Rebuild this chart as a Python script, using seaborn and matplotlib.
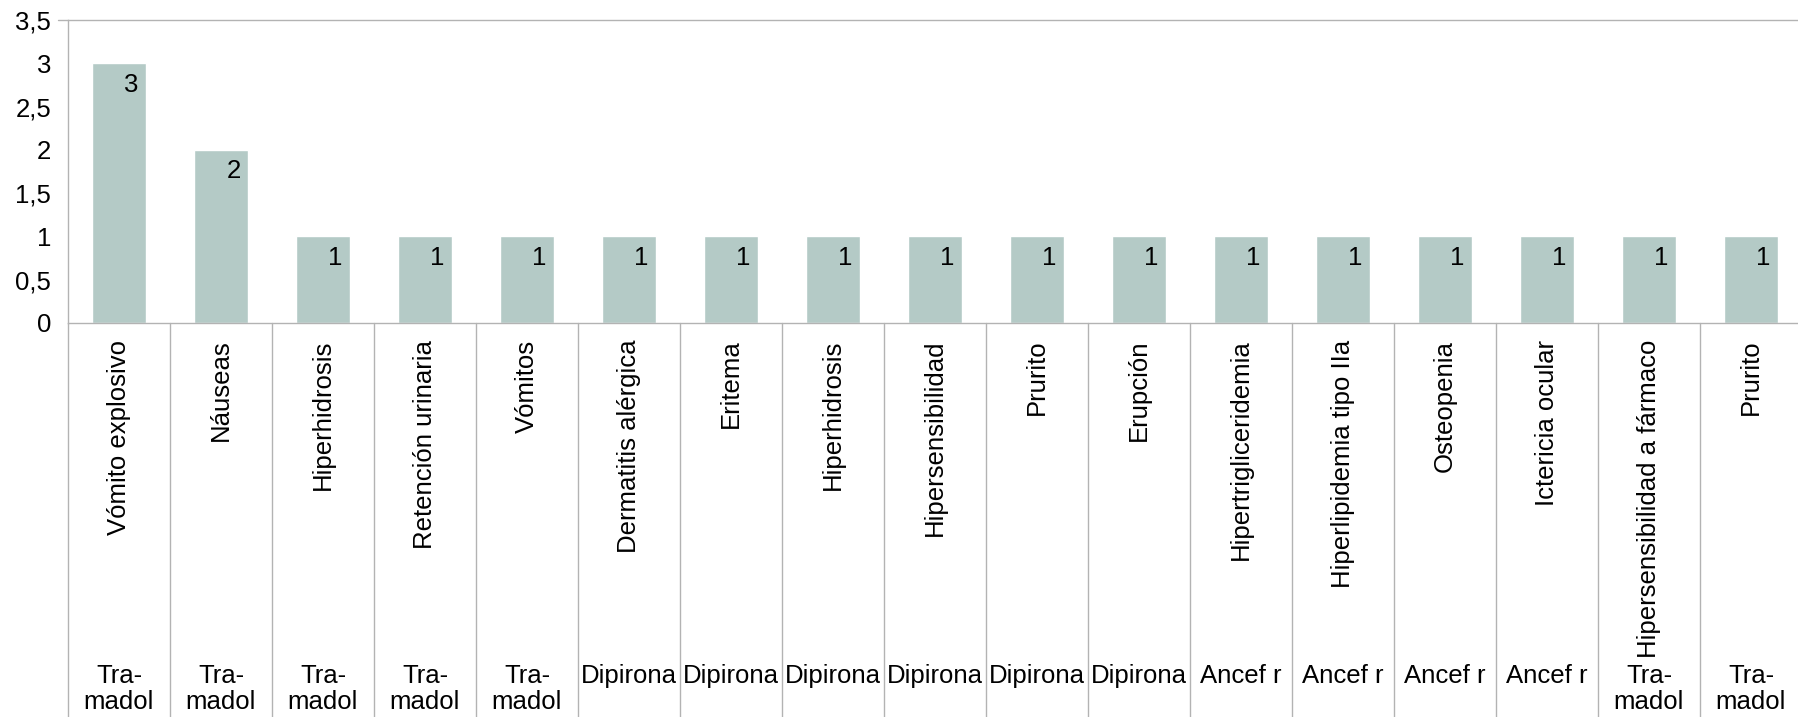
import matplotlib
matplotlib.use("Agg")
import matplotlib.pyplot as plt
import matplotlib.transforms as mtransforms
import pandas as pd
import seaborn as sns

# Data
efectos = ["Vómito explosivo", "Náuseas", "Hiperhidrosis", "Retención urinaria",
           "Vómitos", "Dermatitis alérgica", "Eritema", "Hiperhidrosis",
           "Hipersensibilidad", "Prurito", "Erupción", "Hipertrigliceridemia",
           "Hiperlipidemia tipo IIa", "Osteopenia", "Ictericia ocular",
           "Hipersensibilidad a fármaco", "Prurito"]
farmacos = ["Tra-\nmadol", "Tra-\nmadol", "Tra-\nmadol", "Tra-\nmadol", "Tra-\nmadol",
            "Dipirona", "Dipirona", "Dipirona", "Dipirona", "Dipirona", "Dipirona",
            "Ancef r", "Ancef r", "Ancef r", "Ancef r", "Tra-\nmadol", "Tra-\nmadol"]
casos = [3, 2, 1, 1, 1, 1, 1, 1, 1, 1, 1, 1, 1, 1, 1, 1, 1]
y_ticks = [0, 0.5, 1, 1.5, 2, 2.5, 3, 3.5]

df = pd.DataFrame({"pos": range(len(efectos)), "efecto": efectos,
                   "farmaco": farmacos, "n": casos})

sns.set_style("white")
plt.rcParams["font.family"] = ["Liberation Sans", "DejaVu Sans"]
plt.rcParams["font.size"] = 18.5
plt.rcParams["text.color"] = "black"
plt.rcParams["xtick.labelcolor"] = "black"
plt.rcParams["ytick.labelcolor"] = "black"

bar_color = "#b4cac6"
line_color = "#b3b3b3"

fig = plt.figure(figsize=(17.99, 7.17), dpi=100)
ax = fig.add_axes([68 / 1799, 1 - 323 / 717, 1734 / 1799, 303 / 717])

sns.barplot(data=df, x="pos", y="n", color=bar_color, saturation=1,
            width=0.52, ax=ax)

ax.set_xlim(-0.5, len(efectos) - 0.5)
ax.set_ylim(0, 3.5)
ax.set_yticks(y_ticks)
ax.set_yticklabels([f"{t:g}".replace(".", ",") for t in y_ticks])
ax.set_xticks(range(len(efectos)))
ax.set_xticklabels(efectos, rotation=90, va="top")
ax.set_xlabel("")
ax.set_ylabel("")

ax.tick_params(axis="x", length=0, pad=12, labelcolor="black")
ax.tick_params(axis="y", length=7, color=line_color, width=1, pad=5,
               labelcolor="black")

for side in ["top", "right"]:
    ax.spines[side].set_visible(False)
for side in ["left", "bottom"]:
    ax.spines[side].set_color(line_color)
    ax.spines[side].set_linewidth(1)

# top line at 3.5
ax.axhline(3.5, color=line_color, lw=1, clip_on=False)
ax.plot([-0.5 - 0.1, -0.5], [3.5, 3.5], color=line_color, lw=1, clip_on=False)

# value labels inside the bars
for i, v in enumerate(casos):
    ax.annotate(str(v), (i, v), xytext=(9, -15.5), textcoords="offset points",
                ha="center", va="center", fontsize=18.5, color="black")

# separators below the axis and the drug level labels
trans = mtransforms.blended_transform_factory(ax.transData, fig.transFigure)
y0 = 1 - 323 / 717
for b in range(len(efectos) + 1):
    ax.plot([b - 0.5, b - 0.5], [y0, 0], color=line_color, lw=1,
            transform=trans, clip_on=False)
for i, f in enumerate(farmacos):
    ax.text(i, 1 - 664 / 717, f, transform=trans, ha="center", va="top",
            fontsize=18.5, linespacing=1.12, color="black")

fig.savefig("out.png", dpi=100)
